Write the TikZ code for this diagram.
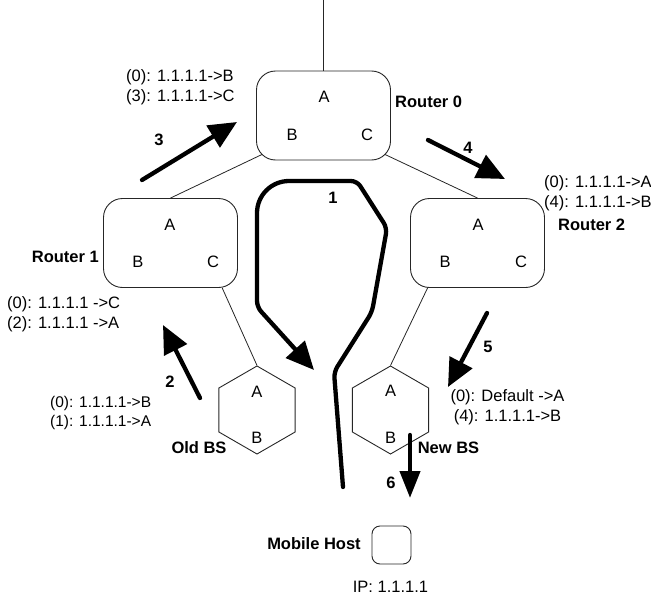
\documentclass[tikz,border=0pt]{standalone}
\usepackage{fontspec}
\setmainfont{Liberation Sans}
\usetikzlibrary{shapes.geometric,arrows.meta}
\begin{document}
\begin{tikzpicture}[x=1pt,y=-1pt,
  every node/.style={font=\fontsize{16.5}{20}\selectfont, inner sep=0pt},
  router/.style={draw=black!85, line width=0.9pt, rounded corners=19pt,
    minimum width=134pt, minimum height=89pt},
  station/.style={draw=black!85, line width=0.9pt, regular polygon,
    regular polygon sides=6, shape border rotate=30, minimum size=88pt},
  host/.style={draw=black!85, line width=0.9pt, rounded corners=8pt,
    minimum width=39pt, minimum height=38pt},
  boldlabel/.style={font=\fontsize{16.5}{20}\selectfont\bfseries},
  routes/.style={align=left},
  link/.style={draw=black!85, line width=0.8pt},
  move/.style={line width=4.3pt, line cap=round,
    -{Triangle[length=28pt,width=25pt]}},
]
\useasboundingbox (0,0) rectangle (651,597);

% routers, base stations and the mobile host
\node[router]  (r0) at (323.5,115.5) {};
\node[router]  (r1) at (170.5,243) {};
\node[router]  (r2) at (477.5,243) {};
\node[station] (ob) at (257,410) {};
\node[station] (nb) at (390.5,410) {};
\node[host]    (mh) at (391.5,545) {};

% port letters
\node (r0a) at (324,97)  {A};
\node (r0b) at (292,135) {B};
\node (r0c) at (367,135) {C};
\node (r1a) at (170,225) {A};
\node (r1b) at (138,262) {B};
\node (r1c) at (213,262) {C};
\node (r2a) at (478,225) {A};
\node (r2b) at (445,262) {B};
\node (r2c) at (521,262) {C};
\node (oba) at (257,392) {A};
\node (obb) at (257,438) {B};
\node (nba) at (390.5,391) {A};
\node (nbb) at (390.5,438) {B};

% names
\node[boldlabel, anchor=west] (n0) at (395,102) {Router 0};
\node[boldlabel, anchor=east] (n1) at (99,257)  {Router 1};
\node[boldlabel, anchor=west] (n2) at (558,225) {Router 2};
\node[boldlabel] (nob) at (199,448) {Old BS};
\node[boldlabel] (nnb) at (448.5,448) {New BS};
\node[boldlabel] (nmh) at (314,544) {Mobile Host};
\node (ip) at (390.5,587) {IP: 1.1.1.1};

% routing tables
\node[routes, anchor=west] (t0) at (126,87)  {(0): 1.1.1.1->B\\(3): 1.1.1.1->C};
\node[routes, anchor=west] (t1) at (7,314)   {(0): 1.1.1.1 ->C\\(2): 1.1.1.1 ->A};
\node[routes, anchor=west] (t2) at (544,193) {(0): 1.1.1.1->A\\(4): 1.1.1.1->B};
\node[align=center] (tn) at (507.5,407) {(0): Default ->A\\(4): 1.1.1.1->B};
\node[routes, anchor=west, font=\fontsize{15.5}{19}\selectfont] (to) at (50,413)
  {(0): 1.1.1.1->B\\(1): 1.1.1.1->A};

% wired links
\coordinate (up) at (323.5,0);
\draw[link] (r0.north) -- (up);
\draw[link] ([shift={(6pt,6pt)}]r0.south west) -- (r1.north);
\draw[link] ([shift={(-6pt,6pt)}]r0.south east) -- (r2.north);
\draw[link] (r1.-41) -- (ob.north);
\draw[link] (r2.222) -- (nb.north);

% movement of the host
\coordinate (m0) at (343,487);
\coordinate (m1) at (334,372);
\coordinate (m2) at (372,312);
\coordinate (m3) at (387,228);
\coordinate (m4) at (357,181);
\coordinate (m5) at (257,181);
\coordinate (m6) at (257,307);
\coordinate (m7) at (314,370);
\draw[move, rounded corners=6pt] (m0) -- (m1) -- (m2) -- (m3) -- (m4)
  [rounded corners=32pt] -- (m5) [rounded corners=6pt] -- (m6) -- (m7);
\node[boldlabel] (l1) at (333,198) {1};

% update messages
\coordinate (a3s) at (142,180); \coordinate (a3e) at (237,122);
\coordinate (a2s) at (200,398); \coordinate (a2e) at (163,325);
\coordinate (a4s) at (428,140); \coordinate (a4e) at (505,179);
\coordinate (a5s) at (487,313); \coordinate (a5e) at (448,387);
\coordinate (a6s) at (410,435); \coordinate (a6e) at (410,498);
\draw[move] (a3s) -- (a3e);
\draw[move] (a2s) -- (a2e);
\draw[move] (a4s) -- (a4e);
\draw[move] (a5s) -- (a5e);
\draw[move, -{Triangle[length=27pt,width=20pt]}] (a6s) -- (a6e);
\node[boldlabel] (l3) at (159,140) {3};
\node[boldlabel] (l2) at (170,382) {2};
\node[boldlabel] (l4) at (468,148) {4};
\node[boldlabel] (l5) at (488,347) {5};
\node[boldlabel] (l6) at (391,483) {6};
\end{tikzpicture}
\end{document}
